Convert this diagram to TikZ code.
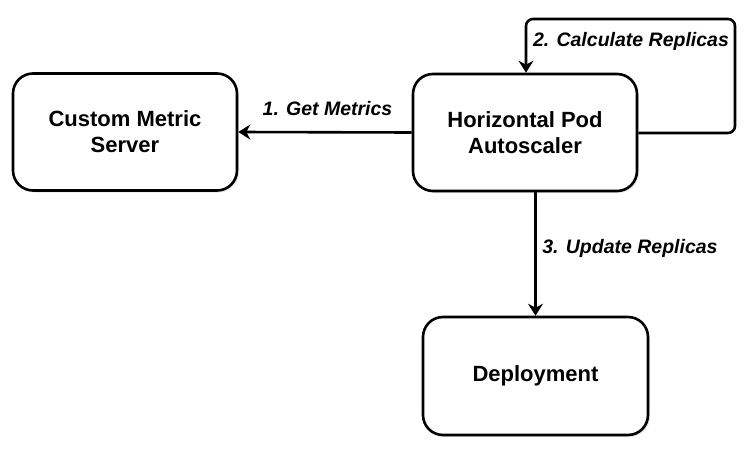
\documentclass[tikz,border=0pt]{standalone}
\usepackage{fontspec}
\setmainfont{Liberation Sans}
\usetikzlibrary{arrows.meta,shadows}
\begin{document}
\begin{tikzpicture}[x=1pt,y=1pt,
  box/.style={draw=black, line width=2.6pt, rounded corners=20pt, fill=white,
    minimum width=224pt, minimum height=117pt, inner sep=0pt, align=center,
    font=\bfseries\fontsize{22}{26}\selectfont,
    drop shadow={opacity=0.18, shadow xshift=2pt, shadow yshift=-2pt}},
  conn/.style={line width=2.6pt, -{Stealth[length=12pt,width=15pt,inset=4pt]}},
  lbl/.style={font=\bfseries\itshape\fontsize{19.5}{23}\selectfont, inner sep=0pt}]
\useasboundingbox (0,0) rectangle (753,451);
\node[box] (cms) at (125,319) {Custom Metric\\Server};
\node[box] (hpa) at (525,318.5) {Horizontal Pod\\Autoscaler};
\node[box, minimum width=225pt, minimum height=118pt] (dep) at (535.5,75) {Deployment};
\coordinate (lr) at (735,318);
\coordinate (ur) at (735,432);
\coordinate (ul) at (526,432);
\draw[conn] (hpa.west) -- (cms.east);
\draw[conn, rounded corners=7pt] (hpa.east |- lr) -- (lr) -- (ur) -- (ul) -- (ul |- hpa.north);
\draw[conn] (dep.north |- hpa.south) -- (dep.north);
\node[lbl] (l1) at (327.5,342) {1. Get Metrics};
\node[lbl] (l2) at (631,410) {2. Calculate Replicas};
\node[lbl] (l3) at (630,203) {3. Update Replicas};
\end{tikzpicture}
\end{document}
